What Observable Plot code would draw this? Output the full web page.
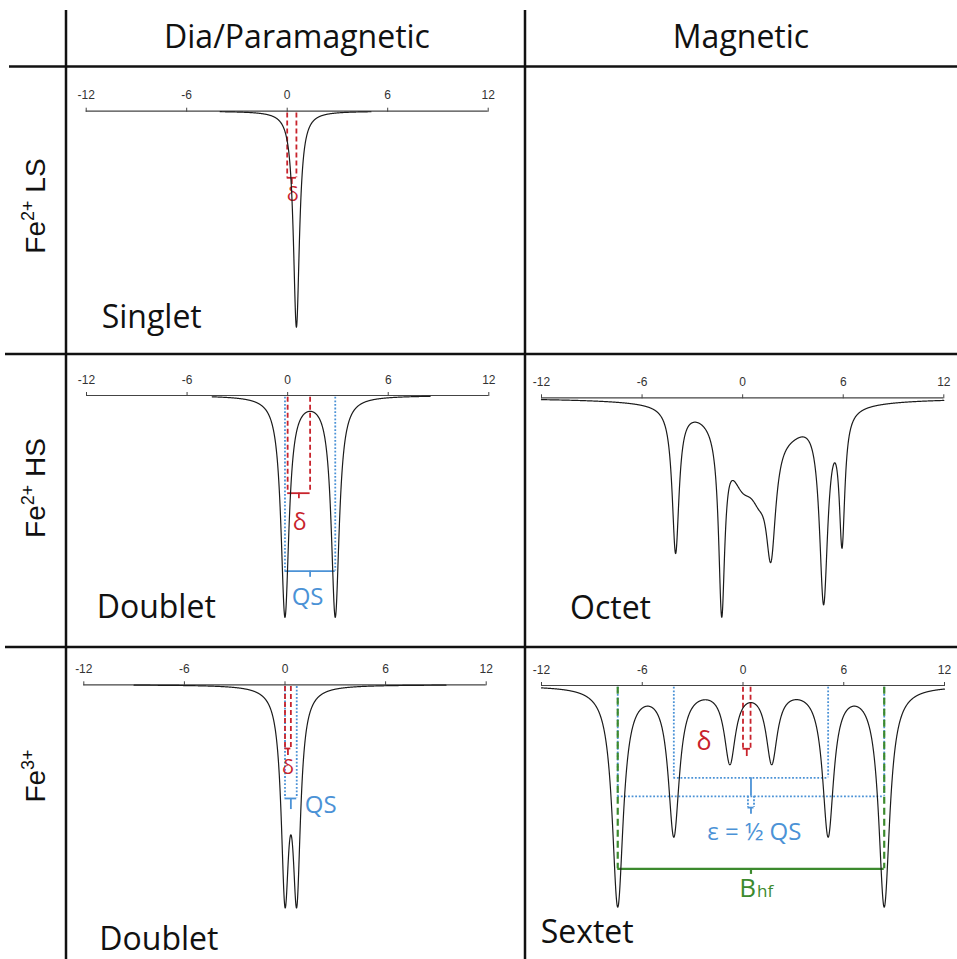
<!DOCTYPE html>
<html><head><meta charset="utf-8">
<script src="https://cdn.jsdelivr.net/npm/d3@7"></script>
<script src="https://cdn.jsdelivr.net/npm/@observablehq/plot@0.6"></script>
<style>
html,body{margin:0;padding:0;background:#fff;}
#root{position:relative;width:957px;height:959px;overflow:hidden;background:#fff;}
#root svg{position:absolute;left:0;top:0;overflow:visible;}
</style></head><body><div id="root"></div>
<script>
// ---------------- data ----------------
const xTickValues = [-12, -6, 0, 6, 12];
const xTickLabels = ["-12", "-6", "0", "6", "12"];
const columnTitles = ["Dia/Paramagnetic", "Magnetic"];
const rowTitles = [
  {base: "Fe", sup: "2+", rest: " LS"},
  {base: "Fe", sup: "2+", rest: " HS"},
  {base: "Fe", sup: "3+", rest: ""}
];
const patternNames = ["Singlet", "Doublet", "Octet", "Doublet", "Sextet"];

// absorption lines: velocity (mm/s), relative depth, half width (mm/s)
const singletPeaks = [{v: 0.55, depth: 0.973, hw: 0.22}];
const hsDoubletPeaks = [{v: -0.16, depth: 0.99, hw: 0.29}, {v: 2.84, depth: 0.99, hw: 0.29}];
const fe3DoubletPeaks = [{v: 0.0, depth: 0.885, hw: 0.275}, {v: 0.7, depth: 0.885, hw: 0.275}];
const octetPeaks = [
  {v: -4.0, depth: 0.655, hw: 0.25},
  {v: -1.25, depth: 0.815, hw: 0.22},
  {v: 0.0, depth: 0.270, hw: 1.0},
  {v: 1.0, depth: 0.198, hw: 0.65},
  {v: 1.69, depth: 0.494, hw: 0.35},
  {v: 3.0, depth: 0.054, hw: 1.2},
  {v: 4.83, depth: 0.850, hw: 0.30},
  {v: 5.93, depth: 0.578, hw: 0.20},
  {v: 1.0, depth: 0.045, hw: 4.0}
];
const sextetPeaks = [
  {v: -7.46, depth: 0.986, hw: 0.4},
  {v: -4.12, depth: 0.661, hw: 0.4},
  {v: -0.78, depth: 0.331, hw: 0.4},
  {v: 1.71, depth: 0.331, hw: 0.4},
  {v: 5.07, depth: 0.661, hw: 0.4},
  {v: 8.41, depth: 0.986, hw: 0.4}
];

// hyperfine parameters marked on the spectra (mm/s)
const singletDelta = 0.55;
const hsDelta = 1.34, hsQSLines = [-0.16, 2.84];
const fe3Delta = 0.35, fe3QSLines = [0.0, 0.7];
const sextetDelta = 0.45;
const sextetOuterLines = [-7.46, 8.41];
const sextetInnerLines = [-4.12, 5.07];
const sextetEpsilon = 0.18;

// ---------------- style / layout ----------------
const W = 957, H = 959;
const RED = "#c8232c", BLUE = "#4b92d6", GREEN = "#3c8a2e", INK = "#1b1b1b";
const DEPTH_PX = 222;
const layout = {
  singlet: {x0: 85.7, x1: 487.7, axisY: 110.7, from: -4, to: 5},
  hs:      {x0: 86, x1: 488.3, axisY: 395, from: -4.5, to: 8.5},
  octet:   {x0: 541, x1: 943.3, axisY: 397.3, from: -12, to: 12},
  fe3:     {x0: 83.3, x1: 485.7, axisY: 684.3, from: -9, to: 9.6},
  sextet:  {x0: 541, x1: 944, axisY: 685, from: -12, to: 12}
};

const root = d3.select("#root");

function absorption(x, peaks) {
  return d3.sum(peaks, p => p.depth * p.hw * p.hw / ((x - p.v) ** 2 + p.hw * p.hw));
}
function guides(xs, y1, y2, color, dash, w) {
  return Plot.ruleX(xs, {x: d => d, y1, y2, stroke: color, strokeDasharray: dash, strokeWidth: w});
}
function bracket(xa, xb, y, stem, color, w) {
  return [
    Plot.ruleY([y], {x1: xa, x2: xb, stroke: color, strokeWidth: w}),
    Plot.ruleX([(xa + xb) / 2], {y1: y, y2: y + stem, stroke: color, strokeWidth: w})
  ];
}
function label(t, x, y, color, size, extra = {}) {
  return Plot.text([{x, y, t}], {x: "x", y: "y", text: "t", fill: color, fontSize: size,
    fontFamily: "Open Sans, sans-serif", ...extra});
}

function panel(L, peaks, annotations) {
  const xs = d3.range(L.from, L.to + 1e-9, 0.01);
  const curve = xs.map(x => ({x, y: absorption(x, peaks)}));
  const svg = Plot.plot({
    width: W, height: H,
    marginTop: L.axisY, marginBottom: 0, marginLeft: 0, marginRight: 0,
    x: {domain: [-12, 12], range: [L.x0, L.x1]},
    y: {domain: [0, 1], range: [L.axisY, L.axisY + DEPTH_PX], axis: null},
    style: {background: "transparent", color: "#333", fontFamily: "Liberation Sans, Arial, sans-serif", overflow: "visible"},
    marks: [
      Plot.ruleY([0], {x1: -12, x2: 12, stroke: "#444", strokeWidth: 1.2}),
      Plot.axisX({anchor: "top", ticks: xTickValues, tickFormat: d => xTickLabels[xTickValues.indexOf(d)],
        tickSize: 4, tickPadding: 8, fontSize: 12, label: null, stroke: "#444"}),
      ...annotations,
      Plot.line(curve, {x: "x", y: "y", stroke: INK, strokeWidth: 1.2})
    ]
  });
  root.node().appendChild(svg);
}

// Singlet (Fe2+ LS)
panel(layout.singlet, singletPeaks, [
  guides([0, singletDelta], 0.008, 0.30, RED, "5,3", 1.8),
  ...bracket(0, singletDelta, 0.30, 0.03, RED, 1.8),
  label("δ", singletDelta / 2 + 0.05, 0.375, RED, 20)
]);

// Doublet (Fe2+ HS)
panel(layout.hs, hsDoubletPeaks, [
  guides(hsQSLines, 0.008, 0.791, BLUE, "1.8,1.8", 1.8),
  ...bracket(hsQSLines[0], hsQSLines[1], 0.791, 0.028, BLUE, 1.8),
  label("QS", (hsQSLines[0] + hsQSLines[1]) / 2 - 0.15, 0.909, BLUE, 24),
  guides([0, hsDelta], 0.008, 0.44, RED, "5,3", 1.8),
  ...bracket(0, hsDelta, 0.44, 0.025, RED, 1.8),
  label("δ", hsDelta / 2 + 0.05, 0.571, RED, 23)
]);

// Octet (Fe2+ HS, magnetic)
panel(layout.octet, octetPeaks, []);

// Doublet (Fe3+)
panel(layout.fe3, fe3DoubletPeaks, [
  guides(fe3QSLines, 0.008, 0.512, BLUE, "1.8,1.8", 1.8),
  ...bracket(fe3QSLines[0], fe3QSLines[1], 0.512, 0.05, BLUE, 1.8),
  label("QS", fe3QSLines[1], 0.544, BLUE, 24, {textAnchor: "start", dx: 8}),
  guides([0, fe3Delta], 0.008, 0.287, RED, "5,3", 1.8),
  ...bracket(0, fe3Delta, 0.287, 0.032, RED, 1.8),
  label("δ", fe3Delta / 2, 0.371, RED, 20)
]);

// Sextet (Fe3+, magnetic)
const outerC = (sextetOuterLines[0] + sextetOuterLines[1]) / 2;
const innerC = (sextetInnerLines[0] + sextetInnerLines[1]) / 2;
panel(layout.sextet, sextetPeaks, [
  guides(sextetOuterLines, 0.008, 0.499, BLUE, "1.8,1.8", 1.8),
  Plot.ruleY([0.499], {x1: sextetOuterLines[0], x2: sextetOuterLines[1], stroke: BLUE, strokeDasharray: "1.8,1.8", strokeWidth: 1.8}),
  guides(sextetInnerLines, 0.008, 0.416, BLUE, "1.8,1.8", 1.8),
  Plot.ruleY([0.416], {x1: sextetInnerLines[0], x2: sextetInnerLines[1], stroke: BLUE, strokeDasharray: "1.8,1.8", strokeWidth: 1.8}),
  Plot.ruleX([innerC], {y1: 0.416, y2: 0.499, stroke: BLUE, strokeWidth: 1.8}),
  guides([outerC - sextetEpsilon, outerC + sextetEpsilon], 0.499, 0.55, BLUE, "2,1.5", 1.8),
  ...bracket(outerC - sextetEpsilon, outerC + sextetEpsilon, 0.55, 0.03, BLUE, 1.8),
  label("ε = ½ QS", outerC + 0.2, 0.661, BLUE, 24),
  guides(sextetOuterLines, 0.008, 0.826, GREEN, "7,4", 2.2),
  ...bracket(sextetOuterLines[0], sextetOuterLines[1], 0.826, 0.025, GREEN, 2.2),
  label("B", outerC, 0.915, GREEN, 26, {textAnchor: "end", dx: 5}),
  label("hf", outerC, 0.93, GREEN, 17, {textAnchor: "start", dx: 6}),
  guides([0, sextetDelta], 0.008, 0.285, RED, "5,3", 1.8),
  ...bracket(0, sextetDelta, 0.285, 0.035, RED, 1.8),
  label("δ", 0, 0.255, RED, 25, {dx: -39})
]);

// ---------------- frame, headers and labels ----------------
const frame = root.append("svg").attr("width", W).attr("height", H);
const lines = [
  {x1: 66, y1: 10, x2: 66, y2: 959},
  {x1: 525, y1: 10, x2: 525, y2: 959},
  {x1: 9, y1: 66.5, x2: 957, y2: 66.5},
  {x1: 5, y1: 354, x2: 957, y2: 354},
  {x1: 5, y1: 647, x2: 957, y2: 647}
];
frame.selectAll("line").data(lines).join("line")
  .attr("x1", d => d.x1).attr("y1", d => d.y1).attr("x2", d => d.x2).attr("y2", d => d.y2)
  .attr("stroke", "#111").attr("stroke-width", 2.5);

const headerX = [297, 741];
frame.selectAll("text.hdr").data(columnTitles).join("text").attr("class", "hdr")
  .attr("x", (d, i) => headerX[i]).attr("y", 48).attr("text-anchor", "middle")
  .attr("font-family", "Open Sans, sans-serif").attr("font-size", 32).attr("fill", "#111").text(d => d);

const rowY = [206, 488, 776];
rowTitles.forEach((r, i) => {
  const t = frame.append("text")
    .attr("transform", `translate(45,${rowY[i]}) rotate(-90)`)
    .attr("text-anchor", "middle")
    .attr("font-family", "Liberation Sans, Arial, sans-serif").attr("font-size", 28).attr("fill", "#111");
  t.append("tspan").text(r.base);
  t.append("tspan").attr("dy", -11).attr("font-size", 18).text(r.sup);
  if (r.rest) t.append("tspan").attr("dy", 11).text(r.rest);
});

const namePos = [[101.7, 328.3], [96.7, 618.3], [570, 619], [99.3, 950], [540.7, 943.3]];
frame.selectAll("text.pn").data(patternNames).join("text").attr("class", "pn")
  .attr("x", (d, i) => namePos[i][0]).attr("y", (d, i) => namePos[i][1])
  .attr("font-family", "Open Sans, sans-serif").attr("font-size", 32).attr("fill", "#111").text(d => d);
</script></body></html>
